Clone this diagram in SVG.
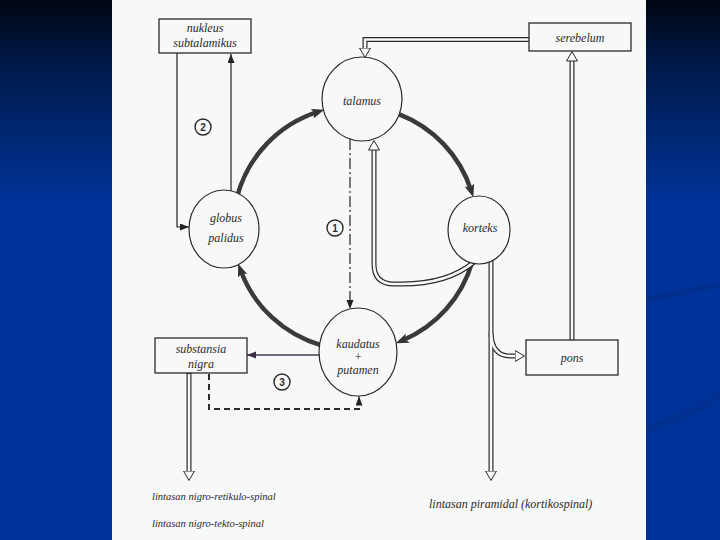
<svg xmlns="http://www.w3.org/2000/svg" width="720" height="540" viewBox="0 0 720 540">
<defs>
<linearGradient id="bg" x1="0" y1="0" x2="0" y2="1">
<stop offset="0" stop-color="#000612"/>
<stop offset="0.12" stop-color="#001a4a"/>
<stop offset="0.38" stop-color="#00339a"/>
<stop offset="1" stop-color="#003399"/>
</linearGradient>
<marker id="thick" markerUnits="userSpaceOnUse" markerWidth="14" markerHeight="12" refX="6" refY="5" orient="auto">
<path d="M0,0 L13,5 L0,10 L3,5 z" fill="#333"/>
</marker>
<marker id="thin" markerUnits="userSpaceOnUse" markerWidth="10" markerHeight="8" refX="9" refY="3.5" orient="auto">
<path d="M0,0 L9,3.5 L0,7 z" fill="#222"/>
</marker>
<marker id="thinp" markerUnits="userSpaceOnUse" markerWidth="10" markerHeight="8" refX="9" refY="3.5" orient="auto">
<path d="M0,0 L9,3.5 L0,7 z" fill="#3a2e40"/>
</marker>
<marker id="hollow" markerUnits="userSpaceOnUse" markerWidth="12" markerHeight="13" refX="0.5" refY="6" orient="auto">
<path d="M0.5,0.5 L10,6 L0.5,11.5 z" fill="#f8f8f8" stroke="#2a2a2a" stroke-width="1"/>
</marker>
</defs>
<style>
.lbl{font-family:"Liberation Serif","Times New Roman",serif;font-style:italic;font-size:12px;fill:#2a2a2a;text-anchor:middle}
.foot{font-family:"Liberation Serif","Times New Roman",serif;font-style:italic;font-size:10.5px;fill:#2a2a2a}
.num{font-family:"Liberation Sans",Arial,sans-serif;font-weight:bold;font-size:10px;fill:#2a2a2a;text-anchor:middle}
.box{fill:#f8f8f8;stroke:#2a2a2a;stroke-width:1.3}
.node{fill:#f8f8f8;stroke:#2a2a2a;stroke-width:1.2}
.arc{fill:none;stroke:#3a3a3a;stroke-width:4.5;marker-end:url(#thick)}
.ln{fill:none;stroke:#222;stroke-width:1.2}
.dblo{fill:none;stroke:#2a2a2a;stroke-width:5}
.dbli{fill:none;stroke:#f8f8f8;stroke-width:2.6}
.badge{fill:#f8f8f8;stroke:#2a2a2a;stroke-width:1.4}
</style>
<rect x="0" y="0" width="720" height="540" fill="url(#bg)"/>
<path d="M646,300 Q690,290 720,285" fill="none" stroke="#002d88" stroke-width="6" opacity="0.6"/>
<path d="M646,430 Q700,410 720,395" fill="none" stroke="#002d88" stroke-width="8" opacity="0.5"/>
<rect x="112" y="0" width="534" height="540" fill="#f7f8f8"/>

<g id="connectors">
<path class="arc" d="M237.2,196.4 A122,122 0 0 1 317.7,111.8"/>
<path class="arc" d="M398.7,114.1 A122,122 0 0 1 471.2,190.7"/>
<path class="arc" d="M472.3,261.6 A122,122 0 0 1 402.3,340.5"/>
<path class="arc" d="M321.4,345.3 A122,122 0 0 1 240.6,270.3"/>
<path class="ln" d="M177,53 L177,227 L189,227" marker-end="url(#thin)"/>
<path class="ln" d="M231,191 L231,54" marker-end="url(#thin)"/>
<path class="ln" d="M350,139 L350,309" stroke-dasharray="11,3,2,3" marker-end="url(#thin)"/>
<path fill="none" stroke="#4a3a52" stroke-width="1.5" d="M320,355 L247,355" marker-end="url(#thinp)"/>
<path fill="none" stroke="#2a2a2a" stroke-width="2" stroke-dasharray="6,4" d="M209,374 L209,409 L359,409 L359,404"/>
<path class="ln" d="M359,404 L359,396.5" marker-end="url(#thin)"/>
<path class="dblo" d="M529,39.5 L365,39.5 L365,48"/>
<path class="dblo" d="M474,262 C455,278 430,284 402,284 L394,284 Q374,284 374,264 L374,150"/>
<path class="dblo" d="M572,340 L572,61"/>
<path class="dblo" d="M491,258 L491,471"/>
<path class="dblo" d="M491,333 Q492,356 510,356 L515,356"/>
<path class="dblo" d="M189,373 L189,471"/>
<path class="dbli" d="M529,39.5 L365,39.5 L365,48" marker-end="url(#hollow)"/>
<path class="dbli" d="M474,262 C455,278 430,284 402,284 L394,284 Q374,284 374,264 L374,150" marker-end="url(#hollow)"/>
<path class="dbli" d="M572,341 L572,61" marker-end="url(#hollow)"/>
<path class="dbli" d="M491,258 L491,471" marker-end="url(#hollow)"/>
<path class="dbli" d="M491,333 Q492,356 510,356 L515,356" marker-end="url(#hollow)"/>
<path class="dbli" d="M189,374 L189,471" marker-end="url(#hollow)"/>
</g>

<g id="nukleus-subtalamikus">
<rect class="box" x="159" y="19" width="92" height="34"/>
<text class="lbl" x="205" y="32">nukleus</text>
<text class="lbl" x="205" y="47">subtalamikus</text>
</g>
<g id="serebelum">
<rect class="box" x="529" y="23" width="102" height="28"/>
<text class="lbl" x="580" y="42">serebelum</text>
</g>
<g id="talamus">
<ellipse class="node" cx="362" cy="99" rx="40" ry="42"/>
<text class="lbl" x="362" y="105">talamus</text>
</g>
<g id="globus-palidus">
<ellipse class="node" cx="224" cy="229" rx="35" ry="39"/>
<text class="lbl" x="226" y="222">globus</text>
<text class="lbl" x="226" y="242">palidus</text>
</g>
<g id="korteks">
<ellipse class="node" cx="479" cy="230" rx="31" ry="34"/>
<text class="lbl" x="480" y="232">korteks</text>
</g>
<g id="kaudatus-putamen">
<ellipse class="node" cx="358" cy="352" rx="39" ry="44"/>
<text class="lbl" x="358" y="348">kaudatus</text>
<text class="lbl" x="358" y="361">+</text>
<text class="lbl" x="358" y="374">putamen</text>
</g>
<g id="substansia-nigra">
<rect class="box" x="155" y="338" width="92" height="35"/>
<text class="lbl" x="201" y="353">substansia</text>
<text class="lbl" x="201" y="368">nigra</text>
</g>
<g id="pons">
<rect class="box" x="526" y="340" width="92" height="35"/>
<text class="lbl" x="572" y="362">pons</text>
</g>
<g id="badge-2">
<circle class="badge" cx="203" cy="127" r="8"/>
<text class="num" x="203" y="130.5">2</text>
</g>
<g id="badge-1">
<circle class="badge" cx="335" cy="228" r="8"/>
<text class="num" x="335" y="231.5">1</text>
</g>
<g id="badge-3">
<circle class="badge" cx="282" cy="382" r="8"/>
<text class="num" x="282" y="385.5">3</text>
</g>
<g id="labels">
<text class="foot" x="152" y="500">lintasan nigro-retikulo-spinal</text>
<text class="foot" x="152" y="527">lintasan nigro-tekto-spinal</text>
<text class="foot" x="429" y="508" style="font-size:12px">lintasan piramidal (kortikospinal)</text>
</g>
</svg>
